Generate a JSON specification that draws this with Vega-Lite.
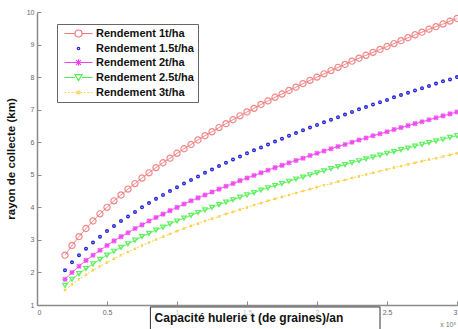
{
  "$schema": "https://vega.github.io/schema/vega-lite/v6.json",
  "autosize": "none",
  "width": 420,
  "height": 293,
  "padding": {"left": 37, "top": 12, "right": 1, "bottom": 24},
  "background": "white",
  "config": {
    "view": {"stroke": null},
    "font": "Liberation Sans",
    "axis": {
      "grid": false,
      "domainColor": "#8a8a8a",
      "domainWidth": 1.5,
      "tickColor": "#8a8a8a",
      "tickSize": -4,
      "labelColor": "#666",
      "labelFontSize": 7,
      "labelFont": "Liberation Sans",
      "labelOverlap": false,
      "labelBound": false
    },
    "legend": {
      "title": null,
      "orient": "none",
      "legendX": 20,
      "legendY": 12,
      "strokeColor": "#666",
      "fillColor": "white",
      "padding": 4,
      "rowPadding": 2,
      "symbolSize": 49,
      "symbolOffset": 12,
      "labelOffset": 12,
      "symbolOpacity": 1,
      "symbolStrokeWidth": 1.2,
      "labelFont": "Liberation Sans",
      "labelFontSize": 11,
      "labelFontWeight": "bold",
      "labelColor": "#111"
    }
  },
  "layer": [
    {
      "data": {
        "values": [
          {"c": 0.20, "r1": 2.53, "r15": 2.07, "r2": 1.79, "r25": 1.60, "r3": 1.46},
          {"c": 0.25, "r1": 2.83, "r15": 2.31, "r2": 2.00, "r25": 1.79, "r3": 1.63},
          {"c": 0.30, "r1": 3.10, "r15": 2.53, "r2": 2.19, "r25": 1.96, "r3": 1.79},
          {"c": 0.35, "r1": 3.35, "r15": 2.73, "r2": 2.37, "r25": 2.12, "r3": 1.93},
          {"c": 0.40, "r1": 3.58, "r15": 2.92, "r2": 2.53, "r25": 2.26, "r3": 2.07},
          {"c": 0.45, "r1": 3.80, "r15": 3.10, "r2": 2.68, "r25": 2.40, "r3": 2.19},
          {"c": 0.50, "r1": 4.00, "r15": 3.27, "r2": 2.83, "r25": 2.53, "r3": 2.31},
          {"c": 0.55, "r1": 4.20, "r15": 3.43, "r2": 2.97, "r25": 2.65, "r3": 2.42},
          {"c": 0.60, "r1": 4.38, "r15": 3.58, "r2": 3.10, "r25": 2.77, "r3": 2.53},
          {"c": 0.65, "r1": 4.56, "r15": 3.72, "r2": 3.22, "r25": 2.88, "r3": 2.63},
          {"c": 0.70, "r1": 4.73, "r15": 3.86, "r2": 3.35, "r25": 2.99, "r3": 2.73},
          {"c": 0.75, "r1": 4.90, "r15": 4.00, "r2": 3.46, "r25": 3.10, "r3": 2.83},
          {"c": 0.80, "r1": 5.06, "r15": 4.13, "r2": 3.58, "r25": 3.20, "r3": 2.92},
          {"c": 0.85, "r1": 5.22, "r15": 4.26, "r2": 3.69, "r25": 3.30, "r3": 3.01},
          {"c": 0.90, "r1": 5.37, "r15": 4.38, "r2": 3.79, "r25": 3.39, "r3": 3.10},
          {"c": 0.95, "r1": 5.51, "r15": 4.50, "r2": 3.90, "r25": 3.49, "r3": 3.18},
          {"c": 1.00, "r1": 5.66, "r15": 4.62, "r2": 4.00, "r25": 3.58, "r3": 3.27},
          {"c": 1.05, "r1": 5.80, "r15": 4.73, "r2": 4.10, "r25": 3.67, "r3": 3.35},
          {"c": 1.10, "r1": 5.93, "r15": 4.84, "r2": 4.20, "r25": 3.75, "r3": 3.43},
          {"c": 1.15, "r1": 6.07, "r15": 4.95, "r2": 4.29, "r25": 3.84, "r3": 3.50},
          {"c": 1.20, "r1": 6.20, "r15": 5.06, "r2": 4.38, "r25": 3.92, "r3": 3.58},
          {"c": 1.25, "r1": 6.32, "r15": 5.16, "r2": 4.47, "r25": 4.00, "r3": 3.65},
          {"c": 1.30, "r1": 6.45, "r15": 5.27, "r2": 4.56, "r25": 4.08, "r3": 3.72},
          {"c": 1.35, "r1": 6.57, "r15": 5.37, "r2": 4.65, "r25": 4.16, "r3": 3.80},
          {"c": 1.40, "r1": 6.69, "r15": 5.47, "r2": 4.73, "r25": 4.23, "r3": 3.86},
          {"c": 1.45, "r1": 6.81, "r15": 5.56, "r2": 4.82, "r25": 4.31, "r3": 3.93},
          {"c": 1.50, "r1": 6.93, "r15": 5.66, "r2": 4.90, "r25": 4.38, "r3": 4.00},
          {"c": 1.55, "r1": 7.04, "r15": 5.75, "r2": 4.98, "r25": 4.45, "r3": 4.07},
          {"c": 1.60, "r1": 7.16, "r15": 5.84, "r2": 5.06, "r25": 4.53, "r3": 4.13},
          {"c": 1.65, "r1": 7.27, "r15": 5.93, "r2": 5.14, "r25": 4.60, "r3": 4.20},
          {"c": 1.70, "r1": 7.38, "r15": 6.02, "r2": 5.22, "r25": 4.67, "r3": 4.26},
          {"c": 1.75, "r1": 7.48, "r15": 6.11, "r2": 5.29, "r25": 4.73, "r3": 4.32},
          {"c": 1.80, "r1": 7.59, "r15": 6.20, "r2": 5.37, "r25": 4.80, "r3": 4.38},
          {"c": 1.85, "r1": 7.69, "r15": 6.28, "r2": 5.44, "r25": 4.87, "r3": 4.44},
          {"c": 1.90, "r1": 7.80, "r15": 6.37, "r2": 5.51, "r25": 4.93, "r3": 4.50},
          {"c": 1.95, "r1": 7.90, "r15": 6.45, "r2": 5.59, "r25": 5.00, "r3": 4.56},
          {"c": 2.00, "r1": 8.00, "r15": 6.53, "r2": 5.66, "r25": 5.06, "r3": 4.62},
          {"c": 2.05, "r1": 8.10, "r15": 6.61, "r2": 5.73, "r25": 5.12, "r3": 4.68},
          {"c": 2.10, "r1": 8.20, "r15": 6.69, "r2": 5.80, "r25": 5.19, "r3": 4.73},
          {"c": 2.15, "r1": 8.30, "r15": 6.77, "r2": 5.87, "r25": 5.25, "r3": 4.79},
          {"c": 2.20, "r1": 8.39, "r15": 6.85, "r2": 5.93, "r25": 5.31, "r3": 4.84},
          {"c": 2.25, "r1": 8.49, "r15": 6.93, "r2": 6.00, "r25": 5.37, "r3": 4.90},
          {"c": 2.30, "r1": 8.58, "r15": 7.01, "r2": 6.07, "r25": 5.43, "r3": 4.95},
          {"c": 2.35, "r1": 8.67, "r15": 7.08, "r2": 6.13, "r25": 5.49, "r3": 5.01},
          {"c": 2.40, "r1": 8.76, "r15": 7.16, "r2": 6.20, "r25": 5.54, "r3": 5.06},
          {"c": 2.45, "r1": 8.85, "r15": 7.23, "r2": 6.26, "r25": 5.60, "r3": 5.11},
          {"c": 2.50, "r1": 8.94, "r15": 7.30, "r2": 6.32, "r25": 5.66, "r3": 5.16},
          {"c": 2.55, "r1": 9.03, "r15": 7.38, "r2": 6.39, "r25": 5.71, "r3": 5.22},
          {"c": 2.60, "r1": 9.12, "r15": 7.45, "r2": 6.45, "r25": 5.77, "r3": 5.27},
          {"c": 2.65, "r1": 9.21, "r15": 7.52, "r2": 6.51, "r25": 5.82, "r3": 5.32},
          {"c": 2.70, "r1": 9.30, "r15": 7.59, "r2": 6.57, "r25": 5.88, "r3": 5.37},
          {"c": 2.75, "r1": 9.38, "r15": 7.66, "r2": 6.63, "r25": 5.93, "r3": 5.42},
          {"c": 2.80, "r1": 9.47, "r15": 7.73, "r2": 6.69, "r25": 5.99, "r3": 5.47},
          {"c": 2.85, "r1": 9.55, "r15": 7.80, "r2": 6.75, "r25": 6.04, "r3": 5.51},
          {"c": 2.90, "r1": 9.63, "r15": 7.87, "r2": 6.81, "r25": 6.09, "r3": 5.56},
          {"c": 2.95, "r1": 9.72, "r15": 7.93, "r2": 6.87, "r25": 6.15, "r3": 5.61},
          {"c": 3.00, "r1": 9.80, "r15": 8.00, "r2": 6.93, "r25": 6.20, "r3": 5.66}
        ]
      },
      "transform": [
        {"fold": ["r1", "r15", "r2", "r25", "r3"], "as": ["s", "r"]}
      ],
      "encoding": {
        "x": {
          "field": "c", "type": "quantitative",
          "scale": {"domain": [0, 3], "nice": false, "zero": false},
          "axis": {"values": [0, 0.5, 1, 1.5, 2, 2.5, 3], "title": null, "labelPadding": 7, "format": "~g", "labelOverlap": false}
        },
        "y": {
          "field": "r", "type": "quantitative",
          "scale": {"domain": [1, 10], "nice": false, "zero": false},
          "axis": {
            "values": [1, 2, 3, 4, 5, 6, 7, 8, 9, 10],
            "format": "d",
            "labelOverlap": false,
            "title": "rayon de collecte (km)",
            "titleFont": "Liberation Sans",
            "titleFontSize": 11.5,
            "titleFontWeight": "bold",
            "titleColor": "#111",
            "titlePadding": 10,
            "labelPadding": 7
          }
        },
        "color": {
          "field": "s", "type": "nominal",
          "scale": {
            "domain": ["r1", "r15", "r2", "r25", "r3"],
            "range": ["#f07a7a", "#2020d8", "#f040f0", "#50f050", "#f8d048"]
          },
          "legend": {
            "labelExpr": "{'r1': 'Rendement 1t/ha', 'r15': 'Rendement 1.5t/ha', 'r2': 'Rendement 2t/ha', 'r25': 'Rendement 2.5t/ha', 'r3': 'Rendement 3t/ha'}[datum.label]"
          }
        }
      },
      "layer": [
        {
          "transform": [{"filter": "datum.s !== 'r15'"}],
          "mark": {"type": "line", "strokeWidth": 1},
          "encoding": {
            "strokeDash": {
              "field": "s", "type": "nominal",
              "scale": {"domain": ["r1", "r2", "r25", "r3"], "range": [[1, 0], [1, 0], [1, 0], [2, 2]]},
              "legend": null
            }
          }
        },
        {
          "transform": [{"filter": "datum.s === 'r1'"}],
          "mark": {"type": "point", "filled": false, "shape": "circle", "size": 38, "strokeWidth": 1.2, "opacity": 0.9}
        },
        {
          "transform": [{"filter": "datum.s === 'r15'"}],
          "mark": {"type": "point", "filled": false, "shape": "circle", "size": 2, "strokeWidth": 2.6, "opacity": 1}
        },
        {
          "transform": [{"filter": "datum.s === 'r2'"}],
          "mark": {"type": "point", "filled": false, "shape": "M-1,-1L1,1M-1,1L1,-1M0,-1.2V1.2M-1.2,0H1.2", "size": 18, "strokeWidth": 1.2, "opacity": 0.9}
        },
        {
          "transform": [{"filter": "datum.s === 'r25'"}],
          "mark": {"type": "point", "filled": false, "shape": "triangle-down", "size": 22, "strokeWidth": 1.2, "opacity": 0.9}
        },
        {
          "transform": [{"filter": "datum.s === 'r3'"}],
          "mark": {"type": "point", "filled": false, "shape": "M-0.6,-0.6L0.6,0.6M-0.6,0.6L0.6,-0.6", "size": 14, "strokeWidth": 1.2, "opacity": 0.9}
        },
        {
          "transform": [{"filter": "datum.c === 0.2"}],
          "mark": {"type": "point", "filled": false, "opacity": 0, "size": 49},
          "encoding": {
            "shape": {
              "field": "s", "type": "nominal",
              "scale": {
                "domain": ["r1", "r15", "r2", "r25", "r3"],
                "range": [
                  "M-4,0H-1M1,0H4M-1,0A1,1 0 1,1 1,0A1,1 0 1,1 -1,0Z",
                  "M-0.35,0A0.35,0.35 0 1,1 0.35,0A0.35,0.35 0 1,1 -0.35,0Z",
                  "M-4,0H4M-0.7,-0.7L0.7,0.7M-0.7,0.7L0.7,-0.7M0,-0.9V0.9",
                  "M-4,0H-1M1,0H4M-1,-0.8L1,-0.8L0,0.9Z",
                  "M-4,0H-3.5M-3,0H-2.5M-2,0H-1.5M-1,0H-0.5M0.5,0H1M1.5,0H2M2.5,0H3M3.5,0H4M-0.5,-0.5L0.5,0.5M-0.5,0.5L0.5,-0.5"
                ]
              },
              "legend": {
                "labelExpr": "{'r1': 'Rendement 1t/ha', 'r15': 'Rendement 1.5t/ha', 'r2': 'Rendement 2t/ha', 'r25': 'Rendement 2.5t/ha', 'r3': 'Rendement 3t/ha'}[datum.label]"
              }
            }
          }
        }
      ]
    },
    {
      "data": {"values": [{"label": "Capacité hulerie t (de graines)/an"}]},
      "layer": [
        {
          "mark": {"type": "rect", "fill": "white", "fillOpacity": 0.6, "stroke": "#333", "strokeWidth": 1, "clip": false},
          "encoding": {
            "x": {"datum": 0.81, "type": "quantitative", "axis": {"values": [0, 0.5, 1, 1.5, 2, 2.5, 3], "title": null, "labelPadding": 7, "format": "~g", "labelOverlap": false}},
            "x2": {"datum": 2.45},
            "y": {"datum": 0.94, "type": "quantitative", "axis": {"values": [1, 2, 3, 4, 5, 6, 7, 8, 9, 10], "format": "d", "labelOverlap": false, "title": "rayon de collecte (km)", "titleFont": "Liberation Sans", "titleFontSize": 11.5, "titleFontWeight": "bold", "titleColor": "#111", "titlePadding": 10, "labelPadding": 7}},
            "y2": {"datum": 0.1}
          }
        },
        {
          "mark": {"type": "text", "font": "Liberation Sans", "fontSize": 12, "fontWeight": "bold", "align": "left", "baseline": "middle", "color": "#111", "clip": false},
          "encoding": {
            "x": {"datum": 0.84, "type": "quantitative", "axis": {"values": [0, 0.5, 1, 1.5, 2, 2.5, 3], "title": null, "labelPadding": 7, "format": "~g", "labelOverlap": false}},
            "y": {"datum": 0.6, "type": "quantitative", "axis": {"values": [1, 2, 3, 4, 5, 6, 7, 8, 9, 10], "format": "d", "labelOverlap": false, "title": "rayon de collecte (km)", "titleFont": "Liberation Sans", "titleFontSize": 11.5, "titleFontWeight": "bold", "titleColor": "#111", "titlePadding": 10, "labelPadding": 7}},
            "text": {"field": "label"}
          }
        }
      ]
    },
    {
      "data": {"values": [{"label": "x 10⁵"}]},
      "mark": {"type": "text", "font": "Liberation Sans", "fontSize": 7, "align": "left", "baseline": "middle", "color": "#777", "clip": false},
      "encoding": {
        "x": {"datum": 2.88, "type": "quantitative", "axis": {"values": [0, 0.5, 1, 1.5, 2, 2.5, 3], "title": null, "labelPadding": 7, "format": "~g", "labelOverlap": false}},
        "y": {"datum": 0.4, "type": "quantitative", "axis": {"values": [1, 2, 3, 4, 5, 6, 7, 8, 9, 10], "format": "d", "labelOverlap": false, "title": "rayon de collecte (km)", "titleFont": "Liberation Sans", "titleFontSize": 11.5, "titleFontWeight": "bold", "titleColor": "#111", "titlePadding": 10, "labelPadding": 7}},
        "text": {"field": "label"}
      }
    }
  ]
}
